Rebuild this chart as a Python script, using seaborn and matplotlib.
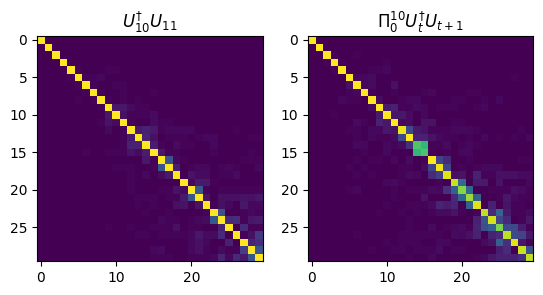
import matplotlib
matplotlib.use('Agg')
import matplotlib.pyplot as plt
import numpy as np
import seaborn as sns

# Cell values, in percent
left_rows = [
    [100,0,0,0,0,0,0,0,0,0,0,0,0,0,0,0,0,0,0,0,0,0,0,0,0,0,0,0,0,0],
    [0,100,0,0,0,0,0,0,0,0,0,0,0,0,0,0,0,0,0,0,0,0,0,0,0,0,0,0,0,0],
    [0,0,100,0,0,0,0,0,0,0,0,0,0,0,0,0,0,0,0,0,0,0,0,0,0,0,0,0,0,0],
    [0,0,0,100,0,0,0,0,0,0,0,0,0,0,0,0,0,0,0,0,0,0,0,0,0,0,0,0,0,0],
    [0,0,0,0,100,1,0,0,0,1,1,0,0,0,0,0,0,0,0,0,0,0,0,0,0,0,0,0,0,0],
    [0,0,0,0,1,100,1,1,2,0,0,0,0,0,0,0,0,0,0,0,0,0,0,0,0,0,0,0,0,0],
    [0,0,0,0,0,1,100,1,0,0,1,1,0,0,0,0,0,0,0,0,0,0,0,0,0,0,0,0,0,0],
    [0,0,0,0,0,0,1,100,1,0,0,1,0,0,0,1,0,0,0,0,0,0,0,0,0,0,0,0,0,0],
    [0,0,0,0,0,1,0,1,100,1,0,1,0,1,0,0,0,0,0,0,0,0,0,0,0,0,0,0,0,0],
    [0,0,0,0,0,0,0,0,1,100,6,6,3,1,1,0,0,0,0,0,0,0,0,0,0,0,0,0,0,0],
    [0,0,0,0,0,0,0,0,0,6,100,4,1,1,1,3,0,0,0,0,0,0,0,0,0,0,0,0,0,0],
    [0,0,0,0,0,0,0,0,1,5,3,100,1,0,0,3,1,1,0,0,0,0,0,0,0,0,0,0,0,0],
    [0,0,0,0,0,0,0,0,0,2,0,1,100,7,9,7,1,2,2,2,2,0,0,0,0,0,1,0,0,0],
    [0,0,0,0,0,0,0,0,0,0,0,1,7,100,10,4,0,1,1,1,0,1,2,2,0,0,0,0,1,1],
    [0,0,0,0,0,0,0,0,0,0,0,1,9,9,100,8,1,0,3,1,1,0,0,2,0,0,0,0,0,0],
    [0,0,0,0,0,0,1,0,0,1,1,1,5,3,8,100,6,1,1,0,0,0,0,1,0,0,0,0,1,0],
    [0,0,0,0,0,0,0,0,0,0,0,0,0,0,6,1,100,26,2,1,0,0,0,0,0,0,0,1,1,1],
    [0,0,0,0,0,0,0,0,0,0,1,1,1,0,0,1,26,100,8,0,1,2,2,0,1,2,1,0,0,2],
    [0,0,0,0,0,0,0,0,0,0,0,0,1,0,2,0,3,7,100,0,5,3,3,0,1,1,3,0,0,0],
    [0,0,0,0,0,0,0,0,0,0,0,0,1,0,0,0,0,0,0,100,2,7,7,1,0,0,0,0,0,0],
    [0,0,0,0,0,0,0,0,0,0,0,0,1,0,0,0,1,1,5,3,100,27,1,0,1,1,1,1,1,1],
    [0,0,0,0,0,0,0,0,0,0,0,0,0,1,1,1,0,1,1,7,27,100,5,0,4,4,4,5,4,6],
    [0,0,0,0,0,0,0,0,0,0,0,0,0,1,0,1,0,0,4,5,0,5,100,1,4,2,0,6,2,2],
    [0,0,0,0,0,0,0,0,0,0,0,0,0,0,1,0,0,1,0,0,0,0,1,100,25,0,0,1,2,1],
    [0,0,0,0,0,0,0,0,0,0,0,0,0,0,0,0,2,1,1,0,1,2,3,27,100,11,13,1,6,7],
    [0,0,0,0,0,0,0,0,0,1,0,0,1,0,0,1,1,1,4,0,1,1,0,0,9,100,0,11,1,1],
    [0,0,0,0,0,0,0,0,0,0,0,0,0,1,1,0,1,1,1,1,2,6,3,3,11,0,100,1,4,16],
    [0,0,0,0,0,0,0,0,0,0,0,0,0,0,0,0,0,0,0,0,2,4,2,0,0,9,0,100,10,13],
    [0,0,0,0,0,0,0,0,0,0,0,0,0,0,0,2,3,0,0,0,2,4,1,0,3,1,1,18,100,26],
    [0,0,0,0,0,0,0,0,0,0,0,0,0,0,0,1,1,1,0,0,1,1,1,2,10,2,11,7,26,100],
]

right_rows = [
    [100,0,0,0,0,0,0,0,0,0,0,0,0,0,0,0,0,0,0,0,0,0,0,0,0,0,0,0,0,0],
    [0,100,0,0,0,0,0,0,0,0,0,0,0,0,0,0,0,0,0,0,0,0,0,0,0,0,0,0,0,0],
    [0,0,100,1,0,0,1,0,0,0,0,0,0,0,0,0,0,0,0,0,0,0,0,0,0,0,0,0,0,0],
    [0,0,1,100,1,0,0,0,0,0,1,0,0,0,0,0,0,0,0,0,0,0,0,0,0,0,0,0,0,0],
    [0,0,0,1,100,0,0,0,1,1,2,0,0,0,0,0,0,0,0,0,0,0,0,0,0,0,0,0,0,0],
    [0,0,0,0,0,100,2,2,3,0,0,0,0,0,0,0,0,0,0,0,0,0,0,0,0,0,0,1,0,0],
    [0,0,0,0,0,4,100,2,3,0,0,4,0,0,0,0,0,0,0,0,0,0,0,0,0,0,0,0,0,0],
    [0,0,0,0,0,1,2,100,1,0,0,1,0,0,0,1,2,0,0,0,0,1,1,0,0,0,0,0,0,0],
    [0,0,0,0,2,1,1,0,100,3,0,0,1,2,2,0,0,0,0,1,1,0,0,1,0,2,0,0,0,0],
    [0,0,0,0,0,0,0,0,3,100,7,9,1,1,3,2,0,1,1,1,0,0,1,2,0,0,0,0,0,0],
    [0,0,0,1,0,0,0,0,0,7,100,6,6,3,0,2,0,0,0,0,0,0,0,0,0,0,0,0,0,0],
    [0,0,0,0,0,0,3,1,0,9,6,100,2,3,0,5,5,0,0,1,1,0,0,0,0,0,0,0,0,0],
    [0,0,0,0,0,1,1,0,2,2,6,5,97,22,7,5,1,1,1,2,2,2,1,0,0,0,0,0,1,0],
    [0,0,0,0,0,0,1,0,2,1,1,3,22,100,9,9,5,2,1,1,0,1,0,2,0,1,0,1,0,2],
    [0,0,0,0,0,0,2,2,0,0,2,1,3,14,72,66,1,1,3,0,1,2,1,0,0,0,0,0,0,0],
    [0,0,0,0,0,0,0,1,0,0,2,0,0,0,66,72,1,0,1,0,2,2,0,0,0,0,0,0,0,0],
    [0,0,0,0,0,0,1,0,1,1,0,2,0,3,0,1,100,20,12,0,0,1,0,0,0,0,0,0,1,1],
    [0,0,0,0,0,1,0,1,0,0,0,0,1,1,0,3,20,97,20,0,1,0,1,2,2,2,0,0,0,0],
    [0,0,0,0,0,0,1,0,1,0,0,0,1,3,2,0,12,18,95,4,5,0,9,1,1,4,4,4,3,3],
    [0,0,0,0,0,0,0,0,0,0,2,3,1,0,0,0,0,1,0,92,34,0,7,7,0,5,0,0,0,2],
    [0,0,0,0,0,1,2,0,0,0,0,1,0,1,1,1,3,2,14,31,82,33,0,0,1,1,1,4,3,1],
    [0,0,0,0,0,0,0,0,0,0,0,1,0,0,0,5,0,0,0,12,33,85,31,0,0,1,6,2,1,1],
    [0,0,0,0,0,0,0,0,0,0,1,0,0,1,1,1,3,10,8,10,0,30,95,0,9,0,5,1,1,0],
    [0,0,0,0,0,0,0,0,0,1,0,0,1,0,1,0,1,3,3,5,1,0,1,90,12,32,7,1,1,3],
    [0,0,0,0,0,0,0,0,0,0,0,0,0,1,0,0,0,0,0,0,0,0,9,26,93,20,11,0,1,6],
    [0,0,0,0,0,0,0,0,0,0,0,0,0,1,0,0,3,0,1,2,3,1,10,24,30,80,22,22,8,1],
    [0,0,0,0,0,0,1,0,0,0,0,0,1,1,1,1,1,1,0,3,2,4,9,0,9,12,90,22,20,6],
    [0,0,0,0,0,0,0,0,0,0,1,0,1,1,1,0,0,2,2,0,0,0,0,3,5,30,14,95,6,1],
    [0,0,0,0,0,0,0,0,1,0,0,1,1,0,1,1,1,3,0,1,1,0,0,0,0,8,12,0,92,24],
    [0,0,0,0,0,0,0,0,0,0,0,0,0,1,0,0,2,0,0,0,0,0,1,2,6,9,9,9,14,90],
]

x_tick_values = [0, 10, 20]
y_tick_values = [0, 5, 10, 15, 20, 25]
titles = [r'$U_{10}^{\dagger}U_{11}$', r'$\Pi_0^{10}U_t^{\dagger}U_{t+1}$']

sns.set_style('white')
fig = plt.figure(figsize=(5.43, 2.95), dpi=100)

# Axes boxes in pixels: left, top, right, bottom
boxes = [(37, 36, 263, 261), (308, 36, 533, 261)]

for rows, title, box in zip([left_rows, right_rows], titles, boxes):
    x0, y0, x1, y1 = box
    ax = fig.add_axes([x0 / 543, 1 - y1 / 295, (x1 - x0) / 543, (y1 - y0) / 295])
    sns.heatmap(np.array(rows) / 100, ax=ax, cmap='viridis', vmin=0, vmax=1, cbar=False,
                xticklabels=False, yticklabels=False)
    ax.set_xticks(np.array(x_tick_values) + 0.5)
    ax.set_xticklabels(x_tick_values, rotation=0, fontsize=10)
    ax.set_yticks(np.array(y_tick_values) + 0.5)
    ax.set_yticklabels(y_tick_values, rotation=0, fontsize=10)
    ax.tick_params(left=True, bottom=True, length=3.5, width=0.8, color='black', labelcolor='black')
    for spine in ax.spines.values():
        spine.set_visible(True)
        spine.set_color('black')
        spine.set_linewidth(0.8)
    ax.set_title(title, fontsize=12, color='black')

plt.savefig('out.png', dpi=100)
